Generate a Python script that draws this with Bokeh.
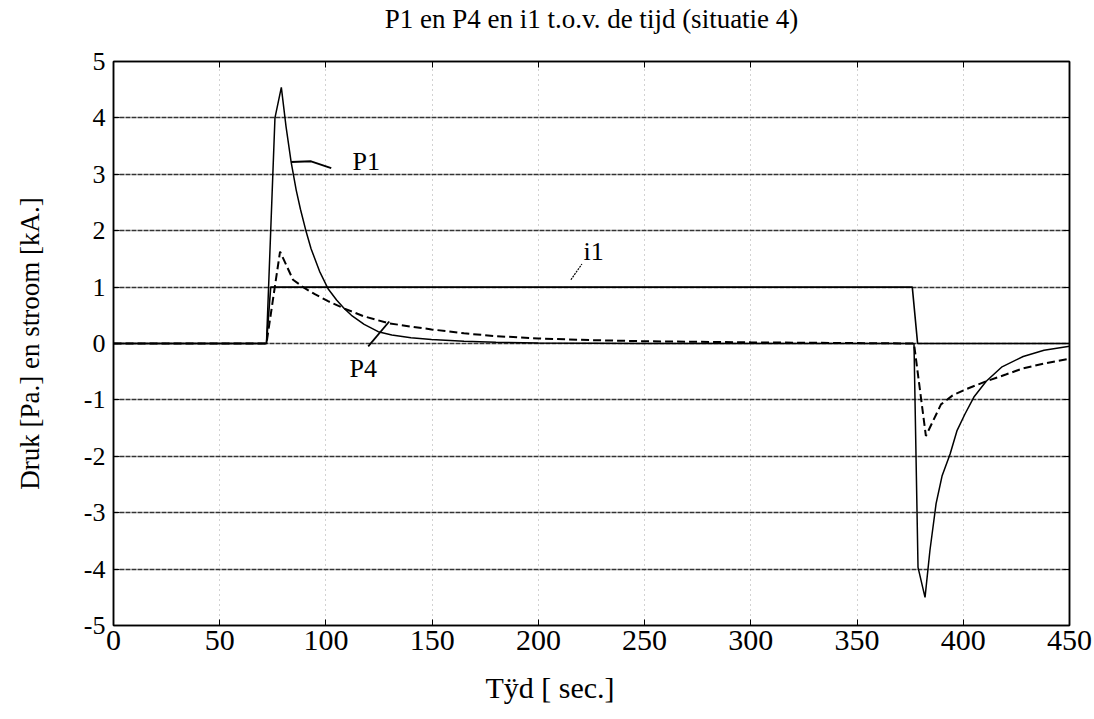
from bokeh.plotting import figure
from bokeh.models import Range1d, LinearAxis, Label, FixedTicker, PrintfTickFormatter, Title
from bokeh.embed import file_html
from bokeh.resources import INLINE

# ---- data ----
t_p1 = [0, 72, 76, 79, 81.2, 83.6, 86, 88, 90.7, 93, 97, 101, 105, 108.6, 112, 118,
        124.6, 131, 140, 149.7, 165, 180, 200, 250, 300, 376.8, 378.7, 382, 384.3,
        387.2, 390, 393.8, 397, 400.8, 405, 410.8, 418, 428.2, 438, 450]
v_p1 = [0, 0, 4.0, 4.54, 3.85, 3.22, 2.72, 2.38, 1.98, 1.68, 1.28, 0.97, 0.77, 0.62,
        0.5, 0.34, 0.21, 0.15, 0.1, 0.07, 0.04, 0.02, 0.01, 0, 0, 0, -3.97, -4.5,
        -3.67, -2.84, -2.35, -1.96, -1.55, -1.25, -0.95, -0.67, -0.42, -0.23, -0.12,
        -0.05]

t_p4 = [0, 72, 78.4, 84.5, 90, 95, 101, 108.6, 118, 129.4, 140, 149.7, 165, 180, 200,
        225, 250, 275, 300, 340, 376.8, 382.4, 389.5, 395, 401.3, 410.8, 420, 428.2,
        440, 450]
v_p4 = [0, 0, 1.63, 1.13, 0.98, 0.87, 0.75, 0.62, 0.48, 0.36, 0.3, 0.25, 0.18, 0.13, 0.09,
        0.06, 0.04, 0.03, 0.02, 0.01, 0, -1.64, -1.08, -0.92, -0.81, -0.67, -0.55, -0.44,
        -0.34, -0.27]

t_i1 = [0, 72, 74, 376, 378.5, 450]
v_i1 = [0, 0, 1, 1, 0, 0]

x_ticks = [0, 50, 100, 150, 200, 250, 300, 350, 400, 450]
y_ticks = [-5, -4, -3, -2, -1, 0, 1, 2, 3, 4, 5]

# annotation texts and leader lines (data coordinates)
lab_names = ["P1", "i1", "P4"]
lab_x = [119, 226, 117.6]
lab_y = [3.22, 1.63, -0.44]
lead_p1_x = [83.6, 93, 102.5]
lead_p1_y = [3.22, 3.23, 3.11]
lead_i1_x = [215.3, 220.5]
lead_i1_y = [1.13, 1.41]
lead_p4_x = [119.9, 129.8]
lead_p4_y = [-0.05, 0.39]

title_txt = "P1 en P4 en i1 t.o.v. de tijd (situatie 4)"
xlab_txt = "Tÿd [ sec.]"
ylab_txt = "Druk [Pa.] en stroom [kA.]"

FONT = "Liberation Serif"

p = figure(width=1094, height=719, output_backend="svg", toolbar_location=None,
           x_range=Range1d(0, 450), y_range=Range1d(-5, 5),
           min_border_left=113, min_border_right=25, min_border_top=59,
           min_border_bottom=94)
p.title = None
p.outline_line_color = "black"
p.outline_line_width = 1.5
p.background_fill_color = "white"
p.border_fill_color = "white"

# grids
p.xgrid.ticker = FixedTicker(ticks=x_ticks)
p.ygrid.ticker = FixedTicker(ticks=y_ticks)
p.xgrid.grid_line_color = "#a5a5a5"
p.xgrid.grid_line_dash = "1 4"
p.xgrid.grid_line_width = 1
p.ygrid.grid_line_color = "#333333"
p.ygrid.grid_line_dash = "5 1"
p.ygrid.grid_line_width = 1.3

for ax in (p.xaxis[0], p.yaxis[0]):
    ax.major_tick_in = 6
    ax.major_tick_out = 0
    ax.minor_tick_line_color = None
    ax.axis_line_color = "black"
    ax.axis_line_width = 1.5
    ax.major_label_text_font = FONT
    ax.major_label_text_color = "black"
    ax.major_tick_line_color = "black"
    ax.formatter = PrintfTickFormatter(format="%d")
p.xaxis[0].ticker = FixedTicker(ticks=x_ticks)
p.yaxis[0].ticker = FixedTicker(ticks=y_ticks)
p.xaxis[0].major_label_text_font_size = "30px"
p.yaxis[0].major_label_text_font_size = "26px"
p.xaxis[0].major_label_standoff = 5
p.yaxis[0].major_label_standoff = 8

p.yaxis[0].axis_label = ylab_txt
p.yaxis[0].axis_label_text_font = FONT
p.yaxis[0].axis_label_text_font_size = "27px"
p.yaxis[0].axis_label_text_font_style = "normal"
p.yaxis[0].axis_label_text_color = "black"
p.yaxis[0].axis_label_standoff = 36

# x label as a 'below' title so it can sit left of centre like the reference
xt = Title(text=xlab_txt, align="left", offset=372, text_font=FONT,
           text_font_size="30px", text_font_style="normal", text_color="black",
           standoff=32)
p.add_layout(xt, "below")

# mirror axes (ticks only) on top and right; the top one carries the chart title
empty_x = {t: "" for t in x_ticks}
empty_y = {t: "" for t in y_ticks}
top = LinearAxis(ticker=FixedTicker(ticks=x_ticks), major_label_overrides=empty_x,
                 major_label_text_color=None, major_label_standoff=0,
                 major_tick_in=6, major_tick_out=0, minor_tick_line_color=None,
                 axis_line_color="black", axis_line_width=1.5,
                 axis_label=title_txt, axis_label_text_font=FONT,
                 axis_label_text_font_size="27px", axis_label_text_font_style="normal",
                 axis_label_text_color="black", axis_label_standoff=28)
right = LinearAxis(ticker=FixedTicker(ticks=y_ticks), major_label_overrides=empty_y,
                   major_label_text_color=None,
                   major_tick_in=6, major_tick_out=0, minor_tick_line_color=None,
                   axis_line_color="black", axis_line_width=1.5)
p.add_layout(top, "above")
p.add_layout(right, "right")

# series
p.line(t_i1, v_i1, line_color="black", line_width=1.6)
p.line(t_p1, v_p1, line_color="black", line_width=1.5)
p.line(t_p4, v_p4, line_color="black", line_width=2, line_dash="8 4")

# leader lines
p.line(lead_p1_x, lead_p1_y, line_color="black", line_width=2)
p.line(lead_i1_x, lead_i1_y, line_color="black", line_width=1.2, line_dash="2 1")
p.line(lead_p4_x, lead_p4_y, line_color="black", line_width=1.8)

for name, lx, ly in zip(lab_names, lab_x, lab_y):
    p.add_layout(Label(x=lx, y=ly, text=name, text_font=FONT, text_font_size="26px",
                       text_align="center", text_baseline="middle", text_color="black"))

open("out.html", "w").write(file_html(p, INLINE))
